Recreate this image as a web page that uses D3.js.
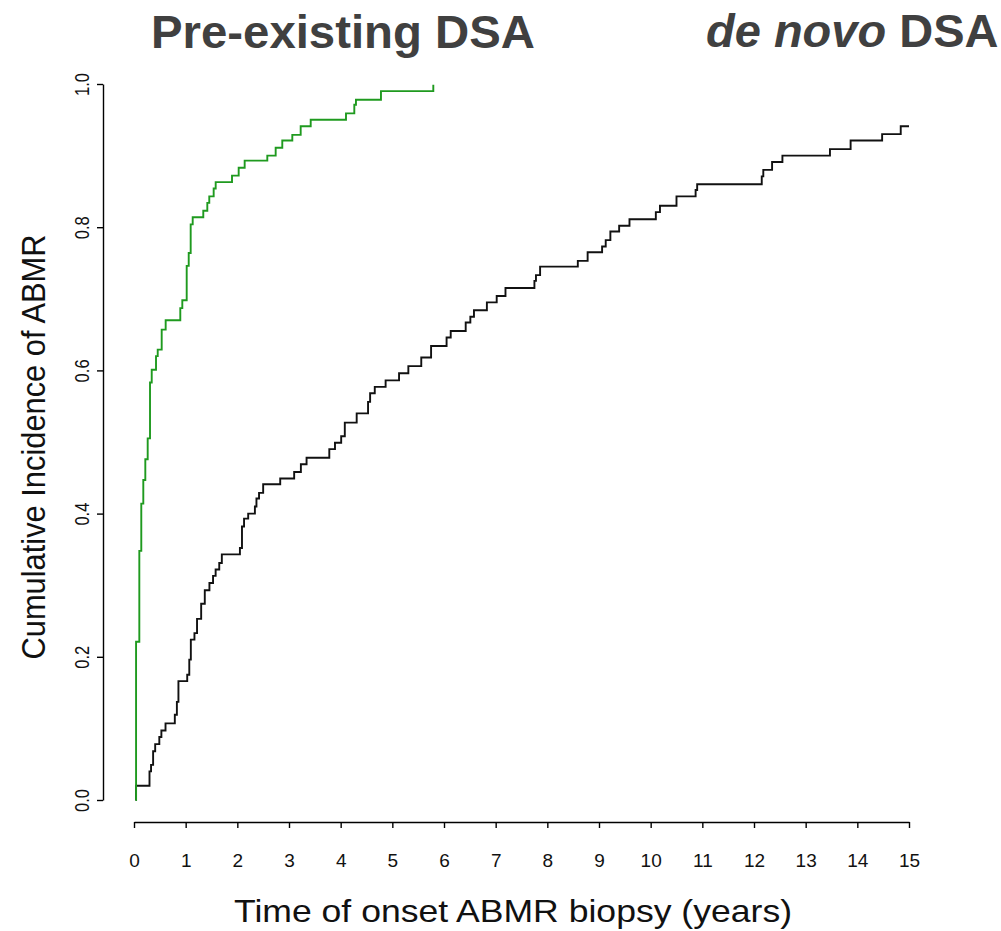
<!DOCTYPE html>
<html>
<head>
<meta charset="utf-8">
<script src="https://cdn.jsdelivr.net/npm/d3@7"></script>
<style>
  html, body { margin: 0; padding: 0; background: #fff; }
  svg { display: block; }
  text { font-family: "Liberation Sans", Arial, Helvetica, sans-serif; }
</style>
</head>
<body>
<svg id="chart" width="1001" height="931"></svg>
<script>
// ---- Data ----
// Pre-existing DSA (green): step times (years) and cumulative incidence after each step
const preTimes = [0.03, 0.04, 0.103, 0.141, 0.180, 0.219, 0.265, 0.310, 0.343, 0.426, 0.459, 0.536, 0.613,
  0.896, 0.935, 1.020, 1.059, 1.097, 1.136, 1.341, 1.419, 1.457, 1.542, 1.581, 1.897, 2.026, 2.142,
  2.580, 2.742, 2.870, 3.064, 3.226, 3.420, 4.103, 4.264, 4.296, 4.780, 5.793];
const preValues = [0.0, 0.221, 0.348, 0.414, 0.447, 0.476, 0.505, 0.583, 0.601, 0.620, 0.629, 0.657, 0.670,
  0.687, 0.698, 0.746, 0.764, 0.804, 0.814, 0.823, 0.834, 0.843, 0.854, 0.863, 0.872, 0.883, 0.893,
  0.900, 0.911, 0.921, 0.929, 0.941, 0.950, 0.959, 0.971, 0.978, 0.990, 0.999];

// de novo DSA (black)
const novoTimes = [0.03, 0.04, 0.30, 0.33, 0.37, 0.41, 0.49, 0.53, 0.61, 0.79, 0.83, 0.86, 1.03, 1.07, 1.10,
  1.17, 1.22, 1.30, 1.37, 1.46, 1.53, 1.58, 1.65, 1.70, 2.05, 2.09, 2.13, 2.21, 2.34, 2.37, 2.42, 2.50,
  2.83, 3.10, 3.23, 3.34, 3.78, 3.89, 4.01, 4.08, 4.31, 4.53, 4.57, 4.66, 4.87, 5.13, 5.31, 5.56, 5.75,
  6.05, 6.13, 6.42, 6.51, 6.58, 6.83, 7.02, 7.19, 7.75, 7.78, 7.86, 8.59, 8.78, 9.06, 9.13, 9.22, 9.39,
  9.59, 10.10, 10.18, 10.50, 10.87, 10.90, 12.15, 12.18, 12.35, 12.55, 13.47, 13.87, 14.48, 14.84, 15.0];
const novoValues = [0.0, 0.020, 0.040, 0.049, 0.068, 0.078, 0.088, 0.097, 0.107, 0.119, 0.137, 0.166, 0.175, 0.196, 0.224,
  0.233, 0.253, 0.274, 0.293, 0.303, 0.313, 0.322, 0.331, 0.343, 0.352, 0.382, 0.393, 0.400, 0.410, 0.421, 0.429, 0.441,
  0.449, 0.458, 0.469, 0.478, 0.490, 0.499, 0.508, 0.527, 0.540, 0.556, 0.568, 0.577, 0.586, 0.596, 0.606, 0.618, 0.634,
  0.646, 0.655, 0.667, 0.675, 0.684, 0.695, 0.704, 0.715, 0.725, 0.733, 0.745, 0.753, 0.765, 0.773, 0.782, 0.794, 0.802,
  0.811, 0.821, 0.830, 0.843, 0.852, 0.860, 0.871, 0.880, 0.891, 0.900, 0.909, 0.921, 0.930, 0.941, 0.941];

const xTicks = [0, 1, 2, 3, 4, 5, 6, 7, 8, 9, 10, 11, 12, 13, 14, 15];
const yTicks = [0.0, 0.2, 0.4, 0.6, 0.8, 1.0];
const yTickLabels = ["0.0", "0.2", "0.4", "0.6", "0.8", "1.0"];
const titleLeft = "Pre-existing DSA";
const titleRightItalic = "de novo";
const titleRightRest = " DSA";
const xTitle = "Time of onset ABMR biopsy (years)";
const yTitle = "Cumulative Incidence of ABMR";

// ---- Drawing ----
const svg = d3.select("#chart");
const x = d3.scaleLinear().domain([0, 15]).range([134, 909]);
const y = d3.scaleLinear().domain([0, 1]).range([800, 84]);

// axes (R style: detached)
const xAxis = d3.axisBottom(x).tickValues(xTicks).tickSizeInner(6).tickSizeOuter(0).tickFormat(d3.format("d"));
const gx = svg.append("g").attr("transform", "translate(0,822)").call(xAxis);
gx.selectAll("path, line").attr("stroke", "#000").attr("stroke-width", 1.4);
gx.selectAll("text").attr("font-size", 19).attr("fill", "#111").attr("dy", null).attr("y", 45);

const yAxis = d3.axisLeft(y).tickValues(yTicks).tickSizeInner(6).tickSizeOuter(0).tickFormat((d, i) => yTickLabels[i]);
const gy = svg.append("g").attr("transform", "translate(103,0)").call(yAxis);
gy.selectAll("path, line").attr("stroke", "#000").attr("stroke-width", 1.4);
gy.selectAll(".tick text")
  .attr("x", null).attr("dy", null)
  .attr("text-anchor", "middle")
  .attr("font-size", 20)
  .attr("fill", "#111")
  .attr("transform", "translate(-14,0) rotate(-90)")
  .attr("textLength", 23)
  .attr("lengthAdjust", "spacingAndGlyphs");

// curves
const line = d3.line().x(d => x(d[0])).y(d => y(d[1])).curve(d3.curveStepAfter);
const preData = preTimes.map((t, i) => [t, preValues[i]]);
const novoData = novoTimes.map((t, i) => [t, novoValues[i]]);

svg.append("path").datum(novoData).attr("d", line)
  .attr("fill", "none").attr("stroke", "#111").attr("stroke-width", 1.9);
svg.append("path").datum(preData).attr("d", line)
  .attr("fill", "none").attr("stroke", "#1f9a1f").attr("stroke-width", 1.9);

// axis titles
svg.append("text").attr("x", 513).attr("y", 922).attr("text-anchor", "middle")
  .attr("font-size", 32).attr("fill", "#111")
  .attr("textLength", 558).attr("lengthAdjust", "spacingAndGlyphs")
  .text(xTitle);

svg.append("text").attr("transform", "translate(45,447) rotate(-90)").attr("text-anchor", "middle")
  .attr("font-size", 33).attr("fill", "#111")
  .attr("textLength", 425).attr("lengthAdjust", "spacingAndGlyphs")
  .text(yTitle);

// top titles
svg.append("text").attr("x", 151).attr("y", 48)
  .attr("font-size", 47).attr("font-weight", "bold").attr("fill", "#404040")
  .attr("textLength", 384).attr("lengthAdjust", "spacingAndGlyphs")
  .text(titleLeft);

const t2 = svg.append("text").attr("x", 706).attr("y", 47)
  .attr("font-size", 47).attr("font-weight", "bold").attr("fill", "#404040");
t2.append("tspan").attr("font-style", "italic").text(titleRightItalic);
t2.append("tspan").text(titleRightRest);
</script>
</body>
</html>
